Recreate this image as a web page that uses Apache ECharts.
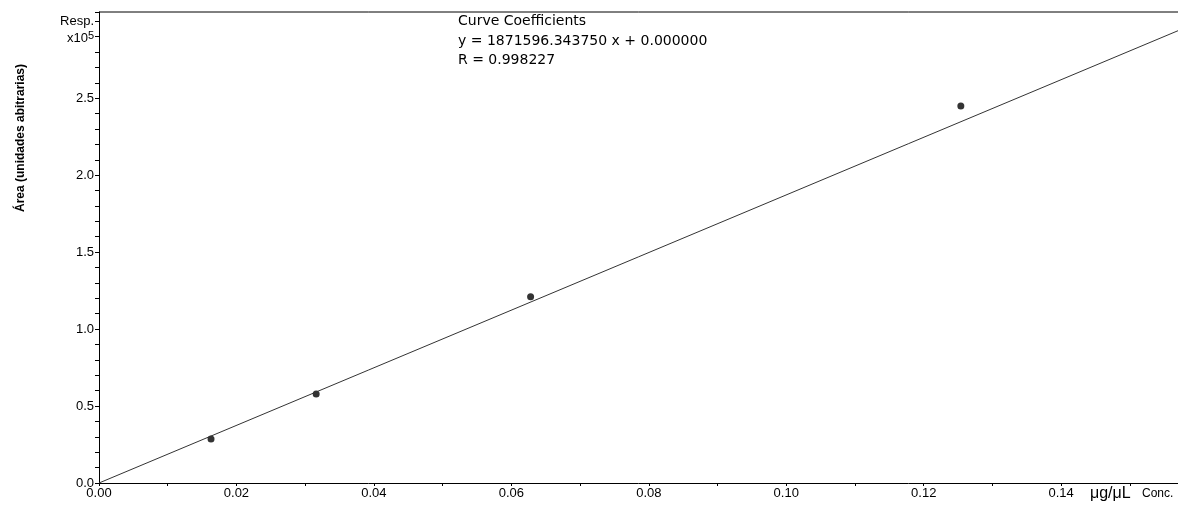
<!DOCTYPE html>
<html>
<head>
<meta charset="utf-8">
<script src="https://cdn.jsdelivr.net/npm/echarts@6/dist/echarts.min.js"></script>
<style>
  html, body { margin: 0; padding: 0; background: #fff; }
  #chart { width: 1178px; height: 507px; }
</style>
</head>
<body>
<div id="chart"></div>
<script>
// calibration standards (conc in ug/uL, response in area counts)
const concValues = [0.0163, 0.0316, 0.0628, 0.1254];
const respValues = [28600, 57800, 121000, 245000];
const slope = 1871596.343750;
const intercept = 0;
const xMax = 0.157;
const yMax = 306000;
const coeffLines = ['Curve Coefficients', 'y = 1871596.343750 x + 0.000000', 'R = 0.998227'];

const chartDom = document.getElementById('chart');
const myChart = echarts.init(chartDom);

const fitLine = [[0, intercept], [xMax, slope * xMax + intercept]];
const points = concValues.map((c, i) => [c, respValues[i]]);

const font = 'Arial, "Liberation Sans", sans-serif';
const wideFont = '"DejaVu Sans", sans-serif';

let option = {
    animation: false,
    grid: { left: 99, right: 0, top: 12, bottom: 24 },
    xAxis: {
        type: 'value',
        min: 0,
        max: xMax,
        interval: 0.02,
        axisLine: { show: true, lineStyle: { color: '#000', width: 1 } },
        axisTick: { show: true, length: 3, lineStyle: { color: '#000' } },
        minorTick: { show: true, splitNumber: 2, length: 3, lineStyle: { color: '#000' } },
        splitLine: { show: false },
        axisLabel: {
            color: '#000', fontFamily: font, fontSize: 13, margin: 4,
            showMaxLabel: false,
            formatter: v => v.toFixed(2)
        }
    },
    yAxis: {
        type: 'value',
        min: 0,
        max: yMax,
        interval: 50000,
        axisLine: { show: true, lineStyle: { color: '#000', width: 1 } },
        axisTick: { show: true, length: 4, lineStyle: { color: '#000' } },
        minorTick: { show: true, splitNumber: 5, length: 4, lineStyle: { color: '#000' } },
        splitLine: { show: false },
        axisLabel: {
            color: '#000', fontFamily: font, fontSize: 13, margin: 5,
            showMaxLabel: false,
            formatter: v => v >= 300000 ? 'Resp.' : (v / 1e5).toFixed(1)
        }
    },
    graphic: [
        // top frame line
        { type: 'line', shape: { x1: 99, y1: 12, x2: 1178, y2: 12 }, style: { stroke: '#000', lineWidth: 1 } },
        { type: 'text', left: 67, top: 30, style: {
            text: '{a|x10}{b|5}', fill: '#000',
            rich: { a: { fontFamily: font, fontSize: 13 }, b: { fontFamily: font, fontSize: 11, verticalAlign: 'top', padding: [0, 0, 6, 0] } }
        } },
        { type: 'text', left: 458, top: 12, style: {
            text: coeffLines.join('\n'), fill: '#000', fontFamily: wideFont, fontSize: 14, lineHeight: 19.5
        } },
        { type: 'text', left: 1090, top: 486, style: { text: 'μg/μL', fill: '#000', fontFamily: font, fontSize: 16 } },
        { type: 'text', left: 1142, top: 488, style: { text: 'Conc.', fill: '#000', fontFamily: font, fontSize: 12 } },
        { type: 'text', x: 21, y: 138, rotation: Math.PI / 2, style: {
            text: 'Área (unidades abitrarias)', fill: '#000', fontFamily: font, fontSize: 12, fontWeight: 'bold',
            align: 'center', verticalAlign: 'middle'
        } }
    ],
    series: [
        {
            type: 'line',
            data: fitLine,
            symbol: 'none',
            lineStyle: { color: '#333', width: 1 }
        },
        {
            type: 'scatter',
            data: points,
            symbol: 'circle',
            symbolSize: 7,
            itemStyle: { color: '#000' }
        }
    ]
};

option && myChart.setOption(option);
</script>
</body>
</html>
